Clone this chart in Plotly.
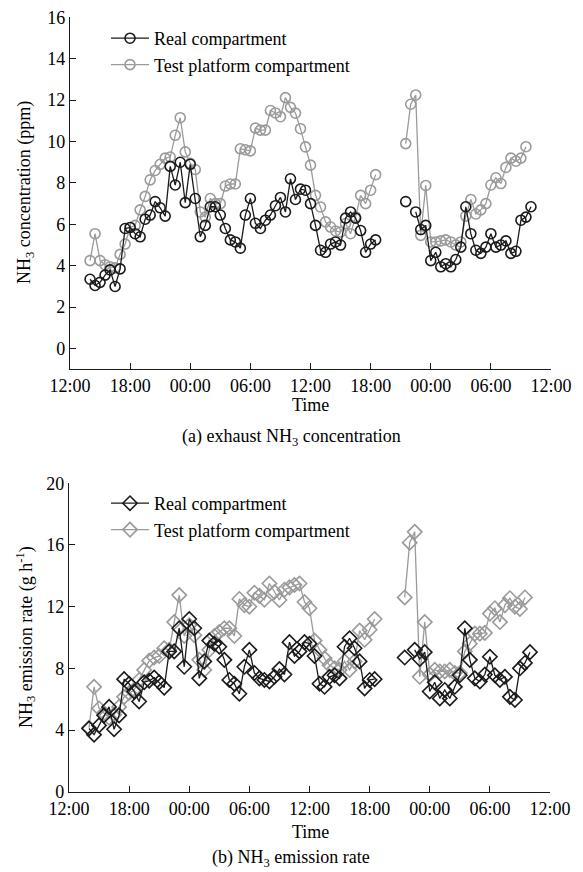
import plotly.graph_objects as go
import pandas as pd

# half-hourly timestamps, 14:00 day 1 to 10:00 day 3
times = pd.date_range("2000-01-01 14:00", "2000-01-03 10:00", freq="30min")

N = None
conc_real = [
    3.35, 3.05, 3.2, 3.55, 3.8, 3.0, 3.85, 5.8, 5.85, 5.55,
    5.4, 6.25, 6.45, 7.1, 6.8, 6.4, 8.8, 7.9, 9.0, 7.05,
    8.9, 7.25, 5.4, 5.95, 6.85, 6.85, 6.45, 5.8, 5.25, 5.15,
    4.85, 6.45, 7.25, 6.05, 5.8, 6.2, 6.45, 6.9, 7.3, 6.6,
    8.2, 7.2, 7.7, 7.65, 7.0, 5.95, 4.75, 4.65, 5.05, 5.15,
    5.0, 6.3, 6.6, 6.3, 5.7, 4.65, 5.05, 5.25,
    N, N, N, N, N,
    7.1, N, 6.6, 5.75, 5.95, 4.25, 4.65, 3.95, 4.1, 3.95,
    4.3, 4.9, 6.85, 5.55, 4.75, 4.6, 4.9, 5.55, 4.9, 5.0,
    5.2, 4.6, 4.7, 6.2, 6.35, 6.85,
]
conc_test = [
    4.25, 5.55, 4.25, 4.05, 3.95, 3.9, 4.55, 5.05, 5.85, 5.95,
    6.7, 7.35, 8.15, 8.6, 8.9, 9.2, 9.25, 10.3, 11.15, 9.5,
    8.95, 8.65, 6.6, 6.35, 7.25, 7.0, 7.0, 7.85, 7.95, 7.95,
    9.65, 9.6, 9.55, 10.65, 10.55, 10.55, 11.5, 11.38, 11.2, 12.12,
    11.65, 11.37, 10.62, 9.74, 8.86, 7.4, 6.84, 6.12, 5.87, 5.68,
    5.63, 6.04, 5.55, 6.36, 7.4, 7.0, 7.65, 8.4,
    N, N, N, N, N,
    9.9, 11.8, 12.25, 5.47, 7.88, 5.15, 5.15, 5.2, 5.25, 5.15,
    5.0, 5.15, 6.4, 7.2, 6.5, 6.7, 7.0, 7.9, 8.25, 7.97,
    8.75, 9.2, 9.05, 9.2, 9.75, N,
]
emis_real = [
    4.1, 3.7, 4.3, 4.95, 5.5, 4.05, 4.95, 7.3, 7.0, 6.5,
    5.85, 7.1, 7.2, 7.4, 7.1, 6.75, 9.1, 9.1, 10.6, 8.1,
    11.2, 10.6, 7.35, 8.45, 9.8, 9.6, 9.4, 8.55, 7.25, 7.0,
    6.35, 8.1, 9.2, 7.7, 7.35, 7.25, 7.15, 7.45, 7.95, 7.6,
    9.7, 8.8, 9.1, 9.7, 9.6, 8.8, 7.0, 6.8, 7.45, 7.55,
    7.35, 9.4, 9.95, 9.3, 8.45, 6.7, 7.25, 7.3,
    N, N, N, N, N,
    8.7, N, 9.2, 8.6, 9.05, 6.5, 7.1, 6.05, 6.6, 6.05,
    6.8, 7.55, 10.6, 8.55, 7.35, 7.15, 7.6, 8.75, 7.55, 7.25,
    7.45, 6.15, 5.95, 8.0, 8.35, 9.05,
]
emis_test = [
    4.15, 6.8, 5.4, 5.1, 4.8, 5.0, 5.5, 6.15, 6.4, 6.6,
    7.25, 7.9, 8.5, 8.7, 8.8, 9.3, 9.2, 11.0, 12.75, 10.1,
    10.8, 10.15, 8.55, 7.9, 9.2, 10.1, 10.35, 10.6, 10.6, 10.1,
    12.5, 12.1, 12.0, 12.9, 12.7, 12.45, 13.5, 12.95, 12.43, 13.1,
    13.25, 13.4, 13.5, 12.3, 11.9, 9.8, 9.2, 8.65, 8.2, 8.0,
    7.9, 8.45, 7.9, 8.45, 10.45, 9.85, 10.5, 11.2,
    N, N, N, N, N,
    12.6, 16.15, 16.85, 7.45, 11.0, 7.6, 7.9, 7.8, 7.8, 7.9,
    7.7, 7.7, 9.1, 9.6, 10.25, 10.25, 10.3, 11.55, 11.9, 11.0,
    12.1, 12.55, 12.0, 11.85, 12.6, N,
]

series_names = ["Real compartment", "Test platform compartment"]
x_range = ["2000-01-01 12:00", "2000-01-03 12:00"]

W, H = 583, 872
OFF = 8  # page body margin in the browser
FONT = "Liberation Serif"
BLACK = "#1a1a1a"
GRAY = "#9a9a9a"


def px(p):
    return (p - OFF) / W


def py(p):
    return 1 - (p - OFF) / H


fig = go.Figure()

# top panel: gray first so black sits above
fig.add_trace(go.Scatter(
    x=times, y=conc_test, name=series_names[1], mode="lines+markers",
    line=dict(color=GRAY, width=1.3),
    marker=dict(symbol="circle-open", size=10, color=GRAY, line=dict(width=1.6)),
    xaxis="x", yaxis="y", legend="legend", legendgroup="t1", legendrank=2))
fig.add_trace(go.Scatter(
    x=times, y=conc_real, name=series_names[0], mode="lines+markers",
    line=dict(color=BLACK, width=1.3),
    marker=dict(symbol="circle-open", size=10, color=BLACK, line=dict(width=1.6)),
    xaxis="x", yaxis="y", legend="legend", legendgroup="r1", legendrank=1))

# bottom panel
fig.add_trace(go.Scatter(
    x=times, y=emis_test, name=series_names[1], mode="lines+markers",
    line=dict(color=GRAY, width=1.3),
    marker=dict(symbol="diamond-open", size=11, color=GRAY, line=dict(width=1.6)),
    xaxis="x2", yaxis="y2", legend="legend2", legendgroup="t2", legendrank=2))
fig.add_trace(go.Scatter(
    x=times, y=emis_real, name=series_names[0], mode="lines+markers",
    line=dict(color=BLACK, width=1.3),
    marker=dict(symbol="diamond-open", size=11, color=BLACK, line=dict(width=1.6)),
    xaxis="x2", yaxis="y2", legend="legend2", legendgroup="r2", legendrank=1))

xcommon = dict(
    type="date", range=x_range, tick0="2000-01-01 12:00", dtick=6 * 3600 * 1000,
    tickformat="%H:%M", ticks="inside", ticklen=6, tickwidth=1.3, tickcolor=BLACK,
    showline=True, linecolor=BLACK, linewidth=1.4, showgrid=False, zeroline=False,
    tickfont=dict(family=FONT, size=18, color="black"), automargin=False,
    ticklabeloverflow="allow",
)
ycommon = dict(
    ticks="inside", ticklen=6, tickwidth=1.3, tickcolor=BLACK,
    showline=True, linecolor=BLACK, linewidth=1.4, showgrid=False, zeroline=False,
    tickfont=dict(family=FONT, size=18, color="black"), automargin=False,
    ticklabeloverflow="allow",
)

legcommon = dict(
    font=dict(family=FONT, size=18, color="black"), bgcolor="rgba(0,0,0,0)",
    xanchor="left", yanchor="top", traceorder="grouped", tracegroupgap=0,
    itemwidth=38,
)

fig.update_layout(
    width=W, height=H, margin=dict(l=0, r=0, t=0, b=0, autoexpand=False),
    paper_bgcolor="white", plot_bgcolor="white",
    font=dict(family=FONT, size=18, color="black"),
    xaxis=dict(domain=[px(70), px(551)], anchor="y", **xcommon),
    yaxis=dict(domain=[py(369.3), py(17.3)], anchor="x", range=[-1, 16], dtick=2, tick0=0, **ycommon),
    xaxis2=dict(domain=[px(69), px(550)], anchor="y2", **xcommon),
    yaxis2=dict(domain=[py(791.7), py(483.3)], anchor="x2", range=[0, 20], dtick=4, tick0=0, **ycommon),
    legend=dict(x=px(106), y=py(20), **legcommon),
    legend2=dict(x=px(106), y=py(485), **legcommon),
    showlegend=True,
)

ann = [
    dict(text="NH<sub>3</sub> concentration (ppm)", x=px(25), y=py(193), textangle=-90),
    dict(text="Time", x=px(310), y=py(405)),
    dict(text="(a) exhaust NH<sub>3</sub> concentration", x=px(291), y=py(437)),
    dict(text="NH<sub>3</sub> emission rate (g h<sup>-1</sup>)", x=px(25), y=py(637), textangle=-90),
    dict(text="Time", x=px(310), y=py(832)),
    dict(text="(b) NH<sub>3</sub> emission rate", x=px(291), y=py(858)),
]
for a in ann:
    fig.add_annotation(xref="paper", yref="paper", showarrow=False,
                       xanchor="center", yanchor="middle",
                       font=dict(family=FONT, size=18, color="black"), **a)

fig.write_html("out.html")
